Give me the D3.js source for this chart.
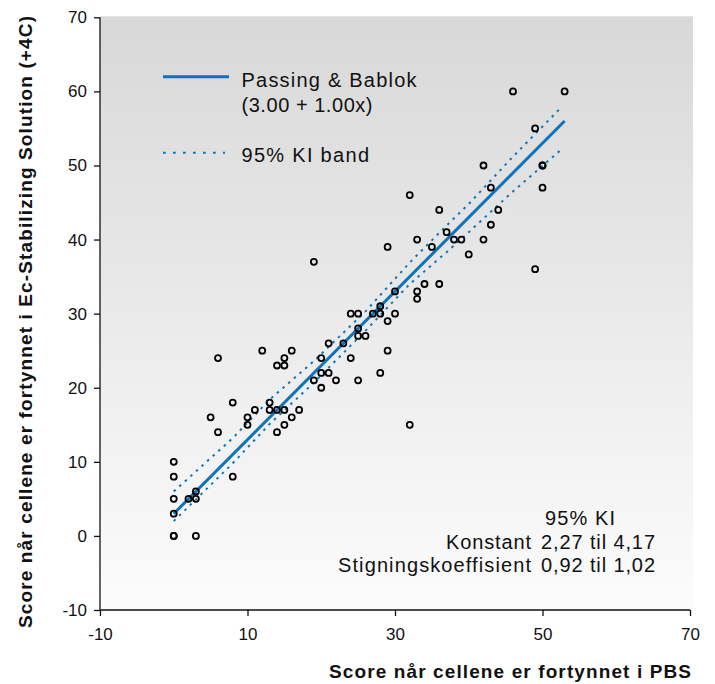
<!DOCTYPE html>
<html>
<head>
<meta charset="utf-8">
<script src="https://cdn.jsdelivr.net/npm/d3@7/dist/d3.min.js"></script>
<style>
  body { margin: 0; background: #fff; }
  text { font-family: "Liberation Sans", Arial, Helvetica, sans-serif; }
</style>
</head>
<body>
<script>
// scores in PBS (x) vs Ec-Stabilizing Solution (y)
var pbs = [0, 0, 0, 0, 0, 0, 2, 3, 3, 3,
  5, 6, 6, 8, 8,
  10, 10, 11, 12, 13, 13, 14, 14, 14,
  15, 15, 15, 15, 16, 16, 17,
  19, 19, 20, 20, 20, 21, 21, 22, 23, 24, 24, 25, 25, 25, 25, 26,
  27, 28, 28, 28, 29, 29, 29, 30, 30,
  32, 32, 33, 33, 33, 34, 35, 36, 36, 37, 38, 39, 40,
  42, 42, 43, 43, 44, 46, 49, 49, 50, 50, 50, 53];
var ecs = [10, 8, 5, 3, 0, 0, 5, 5, 6, 0,
  16, 14, 24, 18, 8,
  16, 15, 17, 25, 18, 17, 23, 17, 14,
  24, 23, 17, 15, 25, 16, 17,
  37, 21, 24, 22, 20, 22, 26, 21, 26, 24, 30, 30, 28, 27, 21, 27,
  30, 31, 30, 22, 39, 29, 25, 33, 30,
  46, 15, 40, 33, 32, 34, 39, 44, 34, 41, 40, 40, 38,
  50, 40, 47, 42, 44, 60, 55, 36, 50, 50, 47, 60];

// Passing & Bablok line and 95% KI band
var fitX = [0, 53];
var fitY = [3, 56];
var bandX = [0, 8, 13, 19, 26, 32, 37, 40, 46, 52.6];
var bandUpper = [6, 13.2, 18.4, 23.6, 30.3, 36.9, 41.9, 44.8, 51.2, 57.9];
var bandLower = [2, 9.8, 15.1, 20.7, 27.7, 34, 38.3, 41, 46.5, 52.2];

var xTicks = [-10, 10, 30, 50, 70];
var yTicks = [-10, 0, 10, 20, 30, 40, 50, 60, 70];

var legendLabels = ["Passing & Bablok", "(3.00 + 1.00x)", "95% KI band"];
var kiLabels = ["Konstant", "Stigningskoeffisient"];
var kiValues = ["2,27 til 4,17", "0,92 til 1,02"];

var w = 715;
var h = 684;
var blue = "#0f73bb";

var svg = d3.select("body")
    .append("svg")
    .attr("width", w)
    .attr("height", h);

var x = d3.scaleLinear().domain([-10, 70]).range([100, 690]);
var y = d3.scaleLinear().domain([-10, 70]).range([610, 17.3]);

var grad = svg.append("defs").append("linearGradient")
    .attr("id", "bg")
    .attr("x1", 0).attr("y1", 0)
    .attr("x2", 0).attr("y2", 1);
grad.append("stop").attr("offset", "0%").attr("stop-color", "#d8d8d8");
grad.append("stop").attr("offset", "100%").attr("stop-color", "#fcfcfc");

svg.append("rect")
   .attr("x", x(-10))
   .attr("y", y(70) - 1)
   .attr("width", x(70) - x(-10) + 3)
   .attr("height", y(-10) - y(70) + 1)
   .attr("fill", "url(#bg)");

// axes
var yAxis = svg.append("g")
    .attr("transform", "translate(" + x(-10) + ",0)")
    .call(d3.axisLeft(y).tickValues(yTicks).tickSize(6).tickPadding(7).tickFormat(function(d) { return String(d); }));
var xAxis = svg.append("g")
    .attr("transform", "translate(0," + y(-10) + ")")
    .call(d3.axisBottom(x).tickValues(xTicks).tickSize(6).tickPadding(12).tickFormat(function(d) { return String(d); }));

svg.selectAll(".domain, .tick line")
   .attr("stroke", "#111")
   .attr("stroke-width", 1.3);
yAxis.select(".domain").attr("d", "M0," + y(70) + "V" + y(-10));
xAxis.select(".domain").attr("d", "M" + x(-10) + ",0H" + x(70));
svg.selectAll(".tick text")
   .attr("font-size", "17px")
   .attr("font-family", "'Liberation Sans', Arial, sans-serif")
   .attr("fill", "#111");

// band lines
var line = d3.line()
    .x(function(d) { return x(d[0]); })
    .y(function(d) { return y(d[1]); });

[bandUpper, bandLower].forEach(function(b) {
  svg.append("path")
     .datum(bandX.map(function(v, i) { return [v, b[i]]; }))
     .attr("d", line)
     .attr("fill", "none")
     .attr("stroke", blue)
     .attr("stroke-width", 2)
     .attr("stroke-dasharray", "2.5,5");
});

svg.append("path")
   .datum(fitX.map(function(v, i) { return [v, fitY[i]]; }))
   .attr("d", line)
   .attr("fill", "none")
   .attr("stroke", blue)
   .attr("stroke-width", 3);

svg.selectAll("circle.pt")
   .data(pbs)
   .enter()
   .append("circle")
   .attr("class", "pt")
   .attr("cx", function(d) { return x(d); })
   .attr("cy", function(d, i) { return y(ecs[i]); })
   .attr("r", 3)
   .attr("fill", "none")
   .attr("stroke", "#000")
   .attr("stroke-width", 1.8);

// legend
svg.append("line")
   .attr("x1", 163).attr("x2", 229)
   .attr("y1", 76.7).attr("y2", 76.7)
   .attr("stroke", blue)
   .attr("stroke-width", 3);
svg.append("line")
   .attr("x1", 163).attr("x2", 225)
   .attr("y1", 152.7).attr("y2", 152.7)
   .attr("stroke", blue)
   .attr("stroke-width", 2)
   .attr("stroke-dasharray", "2.7,7.3");

svg.selectAll("text.leg")
   .data(legendLabels)
   .enter()
   .append("text")
   .attr("class", "leg")
   .text(function(d) { return d; })
   .attr("x", 241.5)
   .attr("y", function(d, i) { return [86.5, 111.5, 162][i]; })
   .attr("textLength", function(d, i) { return [175, 131, 127.5][i]; })
   .attr("lengthAdjust", "spacing")
   .attr("font-size", "20px")
   .attr("fill", "#111");

// KI annotation
svg.append("text")
   .text("95% KI")
   .attr("x", 545)
   .attr("y", 524.5)
   .attr("textLength", 70)
   .attr("font-size", "20px")
   .attr("fill", "#111");

svg.selectAll("text.kilab")
   .data(kiLabels)
   .enter()
   .append("text")
   .attr("class", "kilab")
   .text(function(d) { return d; })
   .attr("x", 531)
   .attr("y", function(d, i) { return [549, 572][i]; })
   .attr("text-anchor", "end")
   .attr("textLength", function(d, i) { return [85, 193][i]; })
   .attr("lengthAdjust", "spacing")
   .attr("font-size", "20px")
   .attr("fill", "#111");

svg.selectAll("text.kival")
   .data(kiValues)
   .enter()
   .append("text")
   .attr("class", "kival")
   .text(function(d) { return d; })
   .attr("x", 541)
   .attr("y", function(d, i) { return [549, 572][i]; })
   .attr("textLength", 114)
   .attr("lengthAdjust", "spacing")
   .attr("font-size", "20px")
   .attr("fill", "#111");

// axis titles
svg.append("text")
   .text("Score når cellene er fortynnet i PBS")
   .attr("x", 691)
   .attr("y", 678)
   .attr("text-anchor", "end")
   .attr("textLength", 362)
   .attr("lengthAdjust", "spacing")
   .attr("font-size", "19px")
   .attr("font-weight", "bold")
   .attr("fill", "#111");

svg.append("text")
   .text("Score når cellene er fortynnet i Ec-Stabilizing Solution (+4C)")
   .attr("transform", "translate(32,322) rotate(-90)")
   .attr("text-anchor", "middle")
   .attr("textLength", 612)
   .attr("lengthAdjust", "spacing")
   .attr("font-size", "19px")
   .attr("font-weight", "bold")
   .attr("fill", "#111");
</script>
</body>
</html>
